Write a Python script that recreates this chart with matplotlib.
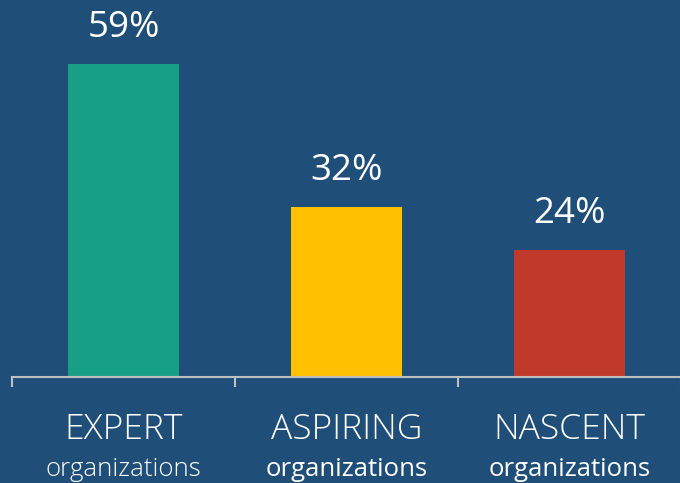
import matplotlib
matplotlib.use("Agg")
from matplotlib import pyplot as plt
import matplotlib.transforms as mtransforms

categories = ["EXPERT", "ASPIRING", "NASCENT"]
subtitles = ["organizations", "organizations", "organizations"]
values = [59, 32, 24]
bar_colors = ["#17A085", "#FFC000", "#C0392B"]
sub_weights = ["light", "normal", "normal"]

BG = "#1F4E79"
plt.rcParams['font.family'] = ['Open Sans', 'DejaVu Sans']

fig = plt.figure(figsize=(6.8, 4.83), dpi=100, facecolor=BG)
ax = fig.add_axes([12 / 680, 106 / 483, 669 / 680, 377 / 483])
ax.set_facecolor(BG)

x = list(range(len(categories)))
bars = ax.bar(x, values, width=0.5, color=bar_colors, zorder=2)

ax.set_xlim(-0.5, len(categories) - 0.5)
ax.set_ylim(0, 71.1)

# value labels above the bars
for xi, v in zip(x, values):
    ax.annotate(f"{v}%", (xi, v), xytext=(0, 26), textcoords="offset points",
                ha="center", va="center", color="white", fontsize=26.5)

# category labels below the axis
trans = mtransforms.blended_transform_factory(ax.transData, ax.transAxes)
for xi, cat, sub, w in zip(x, categories, subtitles, sub_weights):
    ax.text(xi, -0.14, cat, transform=trans, ha="center", va="center",
            color="white", fontsize=25.5, fontweight="light")
    ax.text(xi, -0.245, sub, transform=trans, ha="center", va="center",
            color="white", fontsize=18.5, fontweight=w)

for side in ["top", "right", "left"]:
    ax.spines[side].set_visible(False)
ax.spines["bottom"].set_color("#BFBFBF")
ax.spines["bottom"].set_linewidth(1.5)
ax.set_yticks([])
ax.set_xticks([-0.5, 0.5, 1.5, 2.5])
ax.set_xticklabels([])
ax.tick_params(axis="x", direction="out", length=7, width=1.5, color="#BFBFBF")

fig.savefig("out.png", dpi=100, facecolor=BG)
